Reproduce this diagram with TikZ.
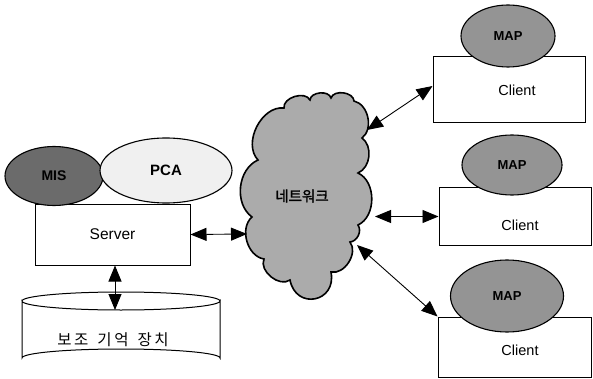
\documentclass[tikz,border=0pt]{standalone}
\usepackage{fontspec}
\setmainfont{Liberation Sans}
\newfontfamily\kr{Noto Sans CJK KR}
\newfontfamily\krb[FakeBold=2]{Noto Sans CJK KR}
\usetikzlibrary{arrows.meta,shapes.geometric,calc}
\tikzset{
  box/.style={draw, line width=1pt, fill=white, rectangle, inner sep=0pt},
  oval/.style={draw, line width=1.1pt, ellipse, inner sep=0pt},
  arr/.style={{Triangle[length=16pt,width=13pt]}-{Triangle[length=16pt,width=13pt]}, line width=0.9pt},
  cloudline/.style={draw, line width=1.6pt, fill=black!33},
  lbl/.style={font=\fontsize{14.5}{17}\selectfont},
  blbl/.style={font=\bfseries\fontsize{13}{15}\selectfont}
}
\begin{document}
\begin{tikzpicture}[x=1pt,y=-1pt]
\useasboundingbox (0,0) rectangle (593,379);
% network cloud
\path[cloudline] (258,160) to[bend left=70] (284,108) to[bend left=80] (310,100)
  to[bend left=80] (331,98) to[bend left=80] (354,101) to[bend left=65] (362,138)
  to[bend left=60] (358,173) to[bend left=65] (358,225) to[bend left=60] (350,242)
  to[bend left=70] (331,272) to[bend left=90, looseness=1.9] (290,280) to[bend left=75] (264,259)
  to[bend left=65] (252,217) to[bend left=60] (258,160) -- cycle;
\node[font=\krb\fontsize{14.5}{17}\selectfont] (net) at (302,196) {네트워크};
\coordinate (cs) at (247,234);
\coordinate (c1) at (367,130);
\coordinate (c2) at (375,216.5);
\coordinate (c3) at (357,245);
% server side
\node[box, minimum width=155pt, minimum height=61pt] (server) at (112.5,234.5)
  {\fontsize{15.5}{18}\selectfont Server};
\node[oval, fill=black!58, minimum width=98pt, minimum height=59pt] (mis) at (54,176)
  {\bfseries\fontsize{14}{16}\selectfont MIS};
\node[oval, fill=black!6, minimum width=132pt, minimum height=65pt] (pca) at (166,170.5)
  {\bfseries\fontsize{15}{17}\selectfont PCA};
% storage cylinder
\path[draw, line width=1pt, fill=white] (22,301) -- (22,358) arc[start angle=180, end angle=360, x radius=99, y radius=9]
  -- (220,301) arc[start angle=0, end angle=180, x radius=99, y radius=9] -- cycle;
\draw[line width=1pt] (22,301) arc[start angle=180, end angle=360, x radius=99, y radius=9];
\coordinate (disktop) at (115,310);
\node[font=\kr\fontsize{15.5}{18}\selectfont] (disk) at (113,340) {보\,조\hspace{9pt}기\,억\hspace{9pt}장\,치};
% clients
\node[box, minimum width=152pt, minimum height=66pt] (client1) at (509,90) {};
\node[lbl] at (517,90) {Client};
\node[oval, fill=black!42, minimum width=94pt, minimum height=62pt] (map1) at (508,36)
  {\bfseries\fontsize{13}{15}\selectfont MAP};
\node[box, minimum width=152pt, minimum height=57pt] (client2) at (515,216.5) {};
\node[lbl] at (520,225) {Client};
\node[oval, fill=black!42, minimum width=100pt, minimum height=60pt] (map2) at (512,165)
  {\bfseries\fontsize{13}{15}\selectfont MAP};
\node[box, minimum width=153pt, minimum height=60pt] (client3) at (514.5,347) {};
\node[lbl] at (520,350) {Client};
\node[oval, fill=black!42, minimum width=113pt, minimum height=72pt] (map3) at (507,296)
  {\bfseries\fontsize{13}{15}\selectfont MAP};
% connectors
\draw[arr] (server.east) -- (cs);
\draw[arr] (server.south -| disktop) -- (disktop);
\draw[arr] (c1) -- ($(client1.west)+(0,-4)$);
\draw[arr] (c2) -- (c2 -| client2.west);
\draw[arr] (c3) -- (client3.north west);
\end{tikzpicture}
\end{document}
